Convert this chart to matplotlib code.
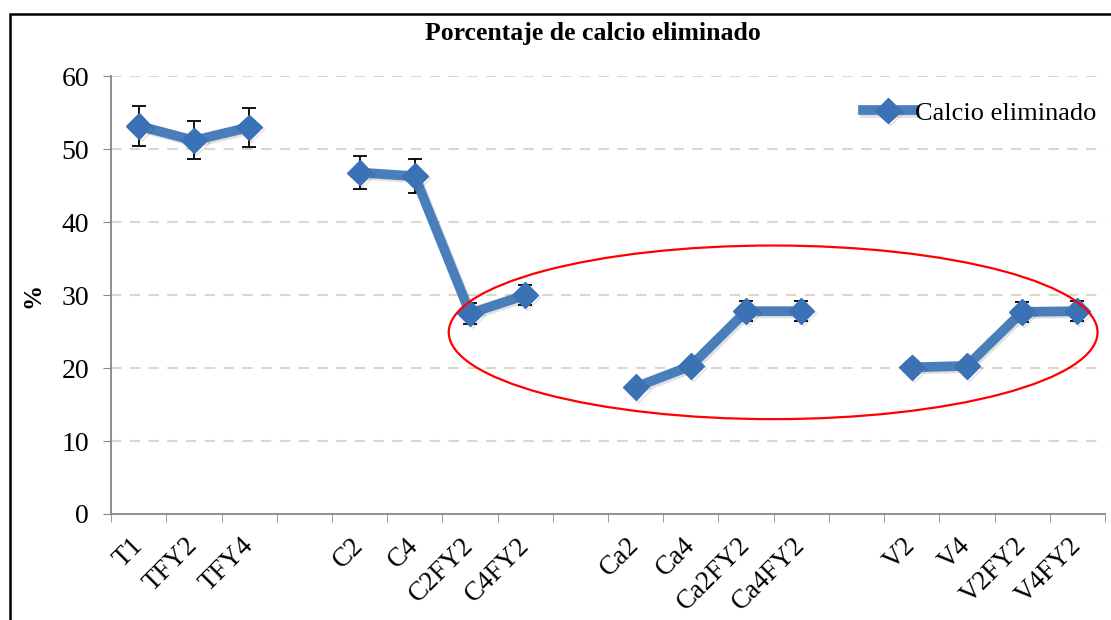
import numpy as np
import matplotlib
matplotlib.use('Agg')
import matplotlib.pyplot as plt
import matplotlib.patheffects as pe
from matplotlib.patches import Rectangle, Ellipse

# categorias (vacios = separacion entre grupos)
categorias = ['T1', 'TFY2', 'TFY4', '',
              'C2', 'C4', 'C2FY2', 'C4FY2', '',
              'Ca2', 'Ca4', 'Ca2FY2', 'Ca4FY2', '',
              'V2', 'V4', 'V2FY2', 'V4FY2']
calcio = [53.2, 51.2, 53.0, np.nan,
          46.8, 46.3, 27.5, 30.0, np.nan,
          17.4, 20.3, 27.8, 27.8, np.nan,
          20.1, 20.3, 27.7, 27.8]
error = [2.7, 2.6, 2.65, np.nan,
         2.3, 2.3, 1.4, 1.4, np.nan,
         0.5, 0.7, 1.4, 1.4, np.nan,
         0.7, 0.7, 1.4, 1.4]

plt.rcParams['font.family'] = ['Liberation Serif', 'DejaVu Serif']

fig = plt.figure(figsize=(11.11, 6.2), dpi=100)
ax = fig.add_axes([0.1, 0.171, 0.8946, 0.706])

x = np.arange(len(categorias))
azul = '#4A7EBB'

ax.errorbar(x, calcio, yerr=error, fmt='none', ecolor='black',
            elinewidth=1.3, capsize=5, capthick=1.3, zorder=2)
linea, = ax.plot(x, calcio, color=azul, lw=7, marker='D', ms=13,
                 mfc='#3B72B6', mec='#3B72B6', zorder=3,
                 label='Calcio eliminado')
linea.set_path_effects([pe.SimpleLineShadow(offset=(1.5, -1.5), alpha=0.12),
                        pe.Normal()])

# elipse roja
ax.add_patch(Ellipse((11.49, 24.9), 11.75, 23.8, fill=False,
                     edgecolor='red', lw=1.6, zorder=4))

ax.set_xlim(-0.5, len(categorias) - 0.5)
ax.set_ylim(0, 60)
ax.set_yticks(range(0, 61, 10))
ax.set_xticks(x[[c != '' for c in categorias]])
ax.set_xticklabels([c for c in categorias if c != ''], rotation=45,
                   ha='right', va='center', rotation_mode='anchor')
ax.set_xticks(np.arange(-0.5, len(categorias)), minor=True)
ax.tick_params(axis='x', which='major', length=0, pad=20, labelsize=19.5)
ax.tick_params(axis='x', which='minor', length=6, color='#868686')
ax.tick_params(axis='y', length=6, color='#868686', labelsize=20, pad=10)

for v in range(10, 61, 10):
    ax.axhline(v, color='#DDD8C4', lw=1.5, ls=(0, (5, 4)), zorder=1)

for s in ['top', 'right']:
    ax.spines[s].set_visible(False)
for s in ['left', 'bottom']:
    ax.spines[s].set_color('#868686')
    ax.spines[s].set_linewidth(1.3)

ax.set_ylabel('%', fontsize=18, fontweight='bold', labelpad=12)
fig.text(0.534, 0.946, 'Porcentaje de calcio eliminado', ha='center',
         va='center', fontsize=18.5, fontweight='bold')

fig.legend(handles=[linea], loc='center left',
           bbox_to_anchor=(0.765, 1 - 113 / 620), frameon=False,
           fontsize=19, handlelength=1.9, handletextpad=0.05, borderpad=0)

# marco exterior
fig.patches.append(Rectangle((10 / 1111, -0.1), 1.2, 0.1 + 1 - 14 / 620,
                             transform=fig.transFigure, fill=False,
                             edgecolor='black', lw=1.8))

plt.savefig('out.png', dpi=100)
